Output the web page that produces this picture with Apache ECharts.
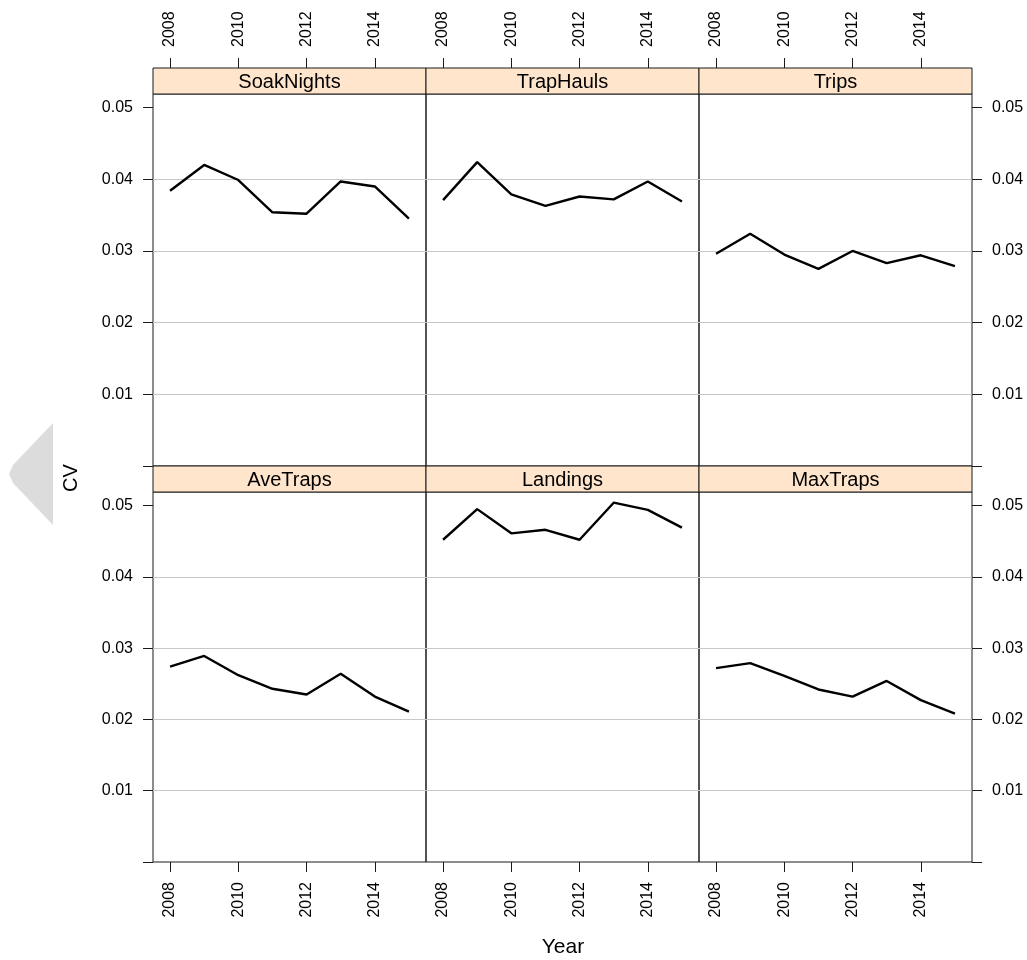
<!DOCTYPE html>
<html>
<head>
<meta charset="utf-8">
<script src="https://cdn.jsdelivr.net/npm/echarts@6/dist/echarts.min.js"></script>
<style>
html,body{margin:0;padding:0;background:#fff;}
#chart{width:1027px;height:960px;}
</style>
</head>
<body>
<div id="chart"></div>
<script>
// ---- data ----
const years = [2008, 2009, 2010, 2011, 2012, 2013, 2014, 2015];
const panelNames = ['SoakNights', 'TrapHauls', 'Trips', 'AveTraps', 'Landings', 'MaxTraps'];
const soakNights = [0.0384, 0.0420, 0.0399, 0.0354, 0.0352, 0.0397, 0.0390, 0.0345];
const trapHauls  = [0.0371, 0.0424, 0.0379, 0.0363, 0.0376, 0.0372, 0.0397, 0.0369];
const trips      = [0.0296, 0.0324, 0.0295, 0.0275, 0.0300, 0.0283, 0.0294, 0.0279];
const aveTraps   = [0.0274, 0.0289, 0.0262, 0.0243, 0.0235, 0.0264, 0.0232, 0.0211];
const landings   = [0.0452, 0.0495, 0.0461, 0.0466, 0.0452, 0.0504, 0.0494, 0.0469];
const maxTraps   = [0.0272, 0.0279, 0.0261, 0.0242, 0.0232, 0.0254, 0.0227, 0.0208];
const yearTicks = [2008, 2010, 2012, 2014];
const cvTicks = [0, 0.01, 0.02, 0.03, 0.04, 0.05];
const cvLabels = [0.01, 0.02, 0.03, 0.04, 0.05];
const xTitle = 'Year';
const yTitle = 'CV';

const panelValues = [soakNights, trapHauls, trips, aveTraps, landings, maxTraps];

// ---- layout ----
const colLeft = [153, 426, 699];
const colW = 273;
const rowTop = [94, 492];
const rowH = [372, 370];
const stripTop = [68, 466];
const stripH = 26;
const xMin = 2007.5, xMax = 2015.5;
const yMin = 0, yMax = 0.0519;
const FONT = '"Liberation Sans", Arial, Helvetica, sans-serif';
const lineCol = '#1a1a1a';

const grid = [], xAxis = [], yAxis = [], series = [], graphic = [];

for (let p = 0; p < 6; p++) {
  const r = Math.floor(p / 3), c = p % 3;
  grid.push({left: colLeft[c], top: rowTop[r], width: colW, height: rowH[r],
    show: true, borderColor: lineCol, borderWidth: 1, backgroundColor: 'transparent'});
  const bottomRow = r === 1;
  xAxis.push({type: 'value', gridIndex: p, min: xMin, max: xMax, position: 'bottom',
    axisLine: {show: false, onZero: false},
    axisTick: {show: bottomRow, customValues: yearTicks, length: 10, lineStyle: {color: lineCol}},
    axisLabel: {show: bottomRow, customValues: yearTicks, rotate: 90, margin: 20,
      fontSize: 16, fontFamily: FONT, color: '#000', formatter: v => String(v)},
    splitLine: {show: false}});
  const side = c === 2 ? 'right' : 'left';
  const showY = c !== 1;
  yAxis.push({type: 'value', gridIndex: p, min: yMin, max: yMax, position: side,
    axisLine: {show: false, onZero: false},
    axisTick: {show: showY, customValues: cvTicks, length: 10, lineStyle: {color: lineCol}},
    axisLabel: {show: showY, customValues: cvLabels, margin: 20, fontSize: 16,
      fontFamily: FONT, color: '#000', formatter: v => v.toFixed(2)},
    splitLine: {show: true, showMinLine: false, showMaxLine: false,
      lineStyle: {color: '#c8c8c8', width: 1.2}}});
  series.push({type: 'line', xAxisIndex: p, yAxisIndex: p,
    data: years.map((y, j) => [y, panelValues[p][j]]),
    showSymbol: false, symbol: 'none', lineStyle: {color: '#000', width: 2.4},
    animation: false, z: 5});
}
for (let p = 0; p < 6; p++) {
  const r = Math.floor(p / 3), c = p % 3;
  const gi = 6 + p;
  grid.push({left: colLeft[c], top: stripTop[r], width: colW, height: stripH,
    show: true, borderColor: lineCol, borderWidth: 1, backgroundColor: '#ffe5cc'});
  const topRow = r === 0;
  xAxis.push({type: 'value', gridIndex: gi, min: xMin, max: xMax, position: 'top',
    axisLine: {show: false, onZero: false},
    axisTick: {show: topRow, customValues: yearTicks, length: 10, lineStyle: {color: lineCol}},
    axisLabel: {show: topRow, customValues: yearTicks, rotate: -90, margin: 21,
      fontSize: 16, fontFamily: FONT, color: '#000', formatter: v => String(v)},
    splitLine: {show: false}});
  yAxis.push({type: 'value', gridIndex: gi, min: 0, max: 1, show: false});
  graphic.push({type: 'text', x: colLeft[c] + colW / 2, y: stripTop[r] + stripH / 2 + 1, z: 10,
    style: {text: panelNames[p], textAlign: 'center', textVerticalAlign: 'middle',
      font: '20px ' + FONT, fill: '#000'}});
}
// axis titles
graphic.push({type: 'text', x: 71, y: 478, rotation: Math.PI / 2, z: 10,
  style: {text: yTitle, textAlign: 'center', textVerticalAlign: 'middle',
    font: '20px ' + FONT, fill: '#000'}});
graphic.push({type: 'text', x: 563, y: 947, z: 10,
  style: {text: xTitle, textAlign: 'center', textVerticalAlign: 'middle',
    font: '21px ' + FONT, fill: '#000'}});
// grey side arrow overlay
graphic.push({type: 'polygon', z: 1,
  shape: {points: [[53, 423], [13, 465], [9, 474], [13, 483], [53, 525]]},
  style: {fill: '#dcdcdc'}});

const chart = echarts.init(document.getElementById('chart'), null, {renderer: 'canvas'});
chart.setOption({animation: false, backgroundColor: '#fff', grid, xAxis, yAxis, series, graphic});
</script>
</body>
</html>
